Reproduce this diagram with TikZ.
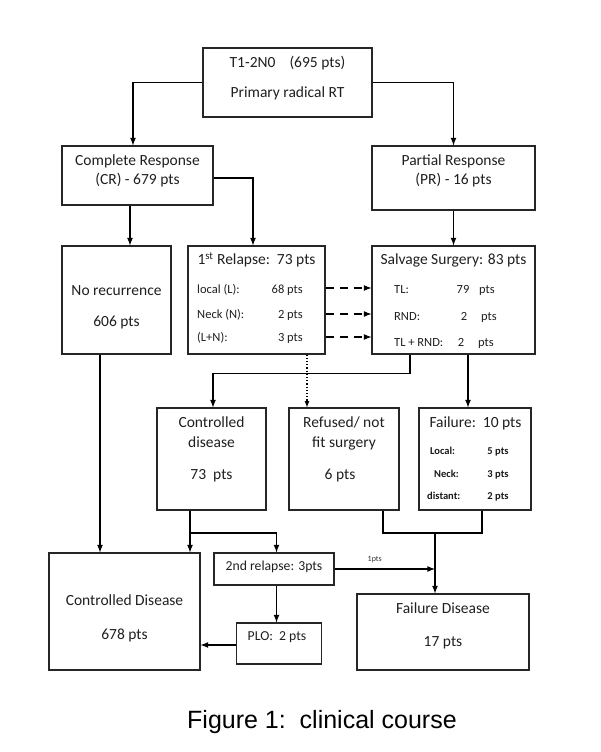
\documentclass[tikz,border=0pt]{standalone}
\usepackage{fontspec}
\setmainfont{Carlito}
\newfontfamily\capfont{Liberation Sans}
\usetikzlibrary{arrows}

\tikzset{
	box/.style={draw=black!85, line width=1.1pt, inner sep=0pt},
	txt/.style={inner sep=0pt, yshift=-2pt, text=black!88, text height=1.5ex, text depth=.3ex, font=\fontsize{15.5}{18}\selectfont},
	row/.style={inner sep=0pt, yshift=-1.5pt, text=black!88, text height=1.5ex, text depth=.3ex, font=\fontsize{12.5}{15}\selectfont},
	sub/.style={inner sep=0pt, yshift=-1pt, text=black!90, text height=1.5ex, text depth=.3ex, font=\bfseries\fontsize{10.5}{12}\selectfont},
	link/.style={line width=1.6pt, ->, >=latex},
}

\begin{document}
\begin{tikzpicture}[x=1pt, y=-1pt]

	\useasboundingbox (0,0) rectangle (600,752);

% draw boxes
	\node[box, minimum width=169pt, minimum height=69pt] (top) at (287.5,82.5) {};
	\node[box, minimum width=151pt, minimum height=59pt] (cr) at (137.5,175.5) {};
	\node[box, minimum width=163pt, minimum height=64pt] (pr) at (453.5,178) {};
	\node[box, minimum width=109pt, minimum height=108pt] (norec) at (116.5,300) {};
	\node[box, minimum width=137pt, minimum height=108pt] (rel) at (256.5,300) {};
	\node[box, minimum width=163pt, minimum height=108pt] (salv) at (453.5,300) {};
	\node[box, minimum width=109pt, minimum height=102pt] (ctrl) at (211.5,459) {};
	\node[box, minimum width=110pt, minimum height=102pt] (refu) at (344,459) {};
	\node[box, minimum width=112pt, minimum height=102pt] (fail) at (475,459) {};
	\node[box, minimum width=151pt, minimum height=117pt] (ctrlD) at (124.5,611.5) {};
	\node[box, minimum width=120pt, minimum height=32pt] (sec) at (274,569) {};
	\node[box, minimum width=84.5pt, minimum height=41pt] (plo) at (279,643.5) {};
	\node[box, minimum width=172pt, minimum height=76pt] (failD) at (443,632) {};

% box texts
	\node[txt] (top1) at (287.5,63) {T1-2N0\ \ \ \ (695 pts)};
	\node[txt] (top2) at (287.5,93) {Primary radical RT};
	\node[txt] (cr1) at (137.5,161) {Complete Response};
	\node[txt] (cr2) at (137.5,180) {(CR) - 679 pts};
	\node[txt] (pr1) at (453.5,161) {Partial Response};
	\node[txt] (pr2) at (453.5,180) {(PR) - 16 pts};
	\node[txt] (nr1) at (116.5,291) {No recurrence};
	\node[txt] (nr2) at (116.5,322) {606 pts};

	\node[txt] (rel0) at (256.5,260) {1\textsuperscript{st} Relapse:\ \ 73 pts};
	\node[row, anchor=west] (rel1) at (197,289) {local (L):};
	\node[row, anchor=west] (rel2) at (197,314) {Neck (N):};
	\node[row, anchor=west] (rel3) at (197,337) {(L+N):};
	\node[row, anchor=east] (rel4) at (303,289) {68 pts};
	\node[row, anchor=east] (rel5) at (303,314) {2 pts};
	\node[row, anchor=east] (rel6) at (303,337) {3 pts};

	\node[txt] (salv0) at (453.5,260) {Salvage Surgery: 83 pts};
	\node[row, anchor=west] (salv1) at (394,289) {TL:};
	\node[row, anchor=west] (salv2) at (394,316) {RND:};
	\node[row, anchor=west] (salv3) at (394,342) {TL + RND:};
	\node[row] (salv4) at (463,289) {79};
	\node[row] (salv5) at (464,316) {2};
	\node[row] (salv6) at (461,342) {2};
	\node[row] (salv7) at (487,289) {pts};
	\node[row] (salv8) at (489,316) {pts};
	\node[row] (salv9) at (486,342) {pts};

	\node[txt] (ctrl1) at (211.5,423) {Controlled};
	\node[txt] (ctrl2) at (211.5,443) {disease};
	\node[txt] (ctrl3) at (211.5,475) {73\ \ pts};
	\node[txt] (refu1) at (344,423) {Refused/ not};
	\node[txt] (refu2) at (344,443) {fit surgery};
	\node[txt] (refu3) at (340,475) {6 pts};

	\node[txt] (fail0) at (475.5,423) {Failure:\ \ 10 pts};
	\node[sub, anchor=west] (fail1) at (430,451) {Local:};
	\node[sub, anchor=west] (fail2) at (434,474) {Neck:};
	\node[sub, anchor=west] (fail3) at (427,496) {distant:};
	\node[sub] (fail4) at (498,451) {5 pts};
	\node[sub] (fail5) at (498,474) {3 pts};
	\node[sub] (fail6) at (498,496) {2 pts};

	\node[txt] (cd1) at (124.5,601) {Controlled Disease};
	\node[txt] (cd2) at (124.5,635) {678 pts};
	\node[txt, font=\fontsize{13.7}{16}\selectfont] (sec1) at (274,566) {2nd relapse: 3pts};
	\node[txt, font=\fontsize{13.7}{16}\selectfont] (plo1) at (277,636) {PLO:\ \ 2 pts};
	\node[txt] (fd1) at (443,609) {Failure Disease};
	\node[txt] (fd2) at (443,642) {17 pts};

% junctions
	\coordinate (j1) at (190,533);
	\coordinate (j3) at (435,533);

% draw arrows
	\draw[link] (top.west) -| ([xshift=-4.5pt]cr.north);
	\draw[link] (top.east) -| (pr.north);
	\draw[link] ([yshift=-2.5pt]cr.east) -| ([xshift=-3.5pt]rel.north);
	\draw[link] ([xshift=-7.5pt]cr.south) -- ([xshift=13.5pt]norec.north);
	\draw[link] (pr.south) -- (salv.north);

	\foreach \d in {12,-14,-37}
		\draw[link, dash pattern=on 8pt off 6pt] ([yshift=\d pt]rel.east) -- ([yshift=\d pt]salv.west);

	\draw[link] ([xshift=-43.5pt]salv.south) -- ++(0,19) -| ([xshift=1.5pt]ctrl.north);
	\draw[line width=1.2pt, dotted, ->, >=latex] ([xshift=50.5pt]rel.south) -- ([xshift=-37pt]refu.north);
	\draw[link] ([xshift=14.5pt]salv.south) -- ([xshift=-7pt]fail.north);

	\draw[link] ([xshift=-16.5pt]norec.south) -- ([xshift=-24.5pt]ctrlD.north);
	\draw[link] ([xshift=-21.5pt]ctrl.south) -- ([xshift=65.5pt]ctrlD.north);
	\draw[link] (j1) -| ([xshift=2.5pt]sec.north);
	\draw[link] ([xshift=2.5pt]sec.south) -- ([xshift=-2.5pt]plo.north);
	\draw[link] ([yshift=-1.5pt]plo.west) -- ([yshift=-33.5pt]ctrlD.east);
	\draw[link] (sec.east) -- (j3 |- sec.east)
		node[pos=0.4, above=5pt, inner sep=0pt, text=black!80, font=\fontsize{8}{9}\selectfont] (one) {1pts};

	\draw[line width=1.6pt] ([xshift=39pt]refu.south) |- (j3) -| ([xshift=7pt]fail.south);
	\draw[link] (j3) -- ([xshift=-8pt]failD.north);

% caption
	\node[inner sep=0pt, font=\capfont\fontsize{25}{30}\selectfont] (cap) at (322,722) {Figure 1:\ \ clinical course};

\end{tikzpicture}
\end{document}
